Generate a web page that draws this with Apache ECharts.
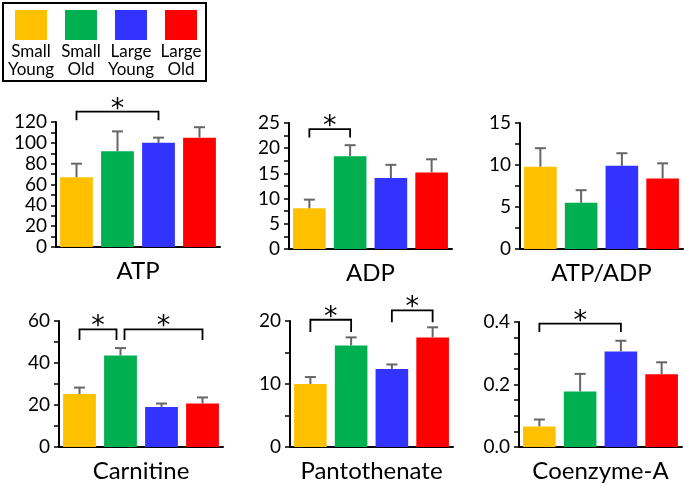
<!DOCTYPE html>
<html><head><meta charset="utf-8">
<script src="https://cdn.jsdelivr.net/npm/echarts@6/dist/echarts.min.js"></script>
<style>html,body{margin:0;padding:0;background:#fff}#c{width:684px;height:484px}</style>
</head><body><div id="c"></div>
<script>
// ---- data ----
const groups = ['Small Young', 'Small Old', 'Large Young', 'Large Old'];
const groupColors = ['#FFC000', '#00B050', '#3333FF', '#FF0000'];
const panelNames = ['ATP', 'ADP', 'ATP/ADP', 'Carnitine', 'Pantothenate', 'Coenzyme-A'];

const ATP = [67, 92, 100, 105];
const ATP_err = [13, 19, 5, 10];
const ADP = [8.1, 18.4, 14.1, 15.2];
const ADP_err = [1.7, 2.2, 2.6, 2.6];
const ATP_ADP = [9.8, 5.5, 9.9, 8.4];
const ATP_ADP_err = [2.2, 1.5, 1.5, 1.8];
const Carnitine = [25.2, 43.6, 19.1, 20.7];
const Carnitine_err = [3.1, 3.5, 1.6, 2.9];
const Pantothenate = [10.0, 16.1, 12.4, 17.4];
const Pantothenate_err = [1.1, 1.3, 0.7, 1.6];
const CoenzymeA = [0.066, 0.178, 0.306, 0.233];
const CoenzymeA_err = [0.022, 0.056, 0.034, 0.038];

const yMax = [120, 25, 15, 60, 20, 0.4];
const yInterval = [20, 5, 5, 20, 10, 0.2];
const yMinorSplit = [2, 2, 2, 2, 2, 4];
const yDecimals = [0, 0, 0, 0, 0, 1];

// significance brackets: [fromIndex, toIndex, bracketLevel, dropLevel]
const ATP_sig = [[0, 2, 130, 121.6]];
const ADP_sig = [[0, 1, 23.8, 22.1]];
const ATP_ADP_sig = [];
const Carnitine_sig = [[0, 1, 56, 51], [1, 3, 56, 51]];
const Pantothenate_sig = [[0, 1, 20.2, 18.25], [2, 3, 21.7, 19.8]];
const CoenzymeA_sig = [[0, 2, 0.395, 0.368]];

const values = [ATP, ADP, ATP_ADP, Carnitine, Pantothenate, CoenzymeA];
const errors = [ATP_err, ADP_err, ATP_ADP_err, Carnitine_err, Pantothenate_err, CoenzymeA_err];
const sigs = [ATP_sig, ADP_sig, ATP_ADP_sig, Carnitine_sig, Pantothenate_sig, CoenzymeA_sig];

// ---- layout ----
const gridBoxes = [
  {left: 56, top: 122, width: 164, height: 125},
  {left: 289, top: 123, width: 163, height: 126},
  {left: 520, top: 123, width: 163, height: 126},
  {left: 59, top: 321, width: 164, height: 126},
  {left: 290, top: 321, width: 163, height: 126},
  {left: 519, top: 322, width: 163, height: 125}
];
const FONT = 'Lato, "Open Sans", sans-serif';
const ERR_COLOR = '#666666';

const grid = [], xAxis = [], yAxis = [], series = [];
panelNames.forEach((name, k) => {
  grid.push(Object.assign({containLabel: false}, gridBoxes[k]));
  xAxis.push({
    type: 'category', gridIndex: k, data: groups,
    name: name, nameLocation: 'middle', nameGap: 12,
    nameTextStyle: {fontSize: 24, color: '#000', fontFamily: FONT, verticalAlign: 'top'},
    axisLine: {lineStyle: {color: '#000', width: 2}},
    axisTick: {show: false}, axisLabel: {show: false}, splitLine: {show: false}
  });
  yAxis.push({
    type: 'value', gridIndex: k, min: 0, max: yMax[k], interval: yInterval[k],
    axisLine: {show: true, lineStyle: {color: '#000', width: 2}},
    axisTick: {show: true, length: 5, lineStyle: {color: '#000', width: 1.5}},
    minorTick: {show: true, splitNumber: yMinorSplit[k], length: 5, lineStyle: {color: '#000', width: 1.5}},
    splitLine: {show: false}, minorSplitLine: {show: false},
    axisLabel: {fontSize: 19, color: '#000', fontFamily: FONT, margin: 9,
      formatter: v => v.toFixed(yDecimals[k])}
  });
  series.push({
    type: 'bar', xAxisIndex: k, yAxisIndex: k, barWidth: '80%',
    data: values[k].map((v, i) => ({value: v, itemStyle: {color: groupColors[i]}})),
    silent: true, animation: false
  });
  series.push({
    type: 'custom', xAxisIndex: k, yAxisIndex: k, clip: false, z: 3, animation: false,
    data: values[k].map((v, i) => [i, v, errors[k][i]]),
    renderItem: (params, api) => {
      const x = api.value(0), v = api.value(1), e = api.value(2);
      const p0 = api.coord([x, v]);
      const p1 = api.coord([x, v + e]);
      const st = {stroke: ERR_COLOR, lineWidth: 2};
      return {type: 'group', children: [
        {type: 'line', shape: {x1: p0[0], y1: p0[1], x2: p1[0], y2: p1[1]}, style: st},
        {type: 'line', shape: {x1: p1[0] - 5.5, y1: p1[1], x2: p1[0] + 5.5, y2: p1[1]}, style: st}
      ]};
    }
  });
  if (sigs[k].length) {
    const list = sigs[k];
    series.push({
      type: 'custom', xAxisIndex: k, yAxisIndex: k, clip: false, z: 4, animation: false,
      data: list.map(s => s.slice()),
      renderItem: (params, api) => {
        const i = api.value(0), j = api.value(1), top = api.value(2), drop = api.value(3);
        const shiftL = list.some(s => s[1] === i) ? 4 : 0;
        const shiftR = list.some(s => s[0] === j) ? -4 : 0;
        const a = api.coord([i, top]), b = api.coord([j, top]);
        const ad = api.coord([i, drop]);
        const xa = a[0] + shiftL, xb = b[0] + shiftR;
        return {type: 'group', children: [
          {type: 'polyline', shape: {points: [[xa, ad[1]], [xa, a[1]], [xb, a[1]], [xb, ad[1]]]},
            style: {stroke: '#000', lineWidth: 1.8, fill: null}},
          {type: 'text', x: (xa + xb) / 2, y: a[1] - 2,
            style: {text: '*', fontSize: 27, fontFamily: '"DejaVu Sans", sans-serif', fill: '#000', align: 'center', verticalAlign: 'middle'}}
        ]};
      }
    });
  }
});

// legend (drawn as graphic)
const legendChildren = [{type: 'rect', shape: {x: 3, y: 3, width: 203, height: 78},
  style: {fill: '#fff', stroke: '#000', lineWidth: 2}}];
groups.forEach((g, i) => {
  const cx = 31 + i * 50;
  legendChildren.push({type: 'rect', shape: {x: cx - 16, y: 10, width: 32, height: 30},
    style: {fill: groupColors[i]}});
  g.split(' ').forEach((w, r) => {
    legendChildren.push({type: 'text', x: cx, y: 52 + r * 18,
      style: {text: w, fontSize: 17, fontFamily: FONT, fill: '#000', align: 'center', verticalAlign: 'middle'}});
  });
});

const chart = echarts.init(document.getElementById('c'), null, {renderer: 'canvas'});
chart.setOption({
  animation: false,
  backgroundColor: '#fff',
  grid, xAxis, yAxis, series,
  graphic: [{type: 'group', children: legendChildren}]
});
</script></body></html>
